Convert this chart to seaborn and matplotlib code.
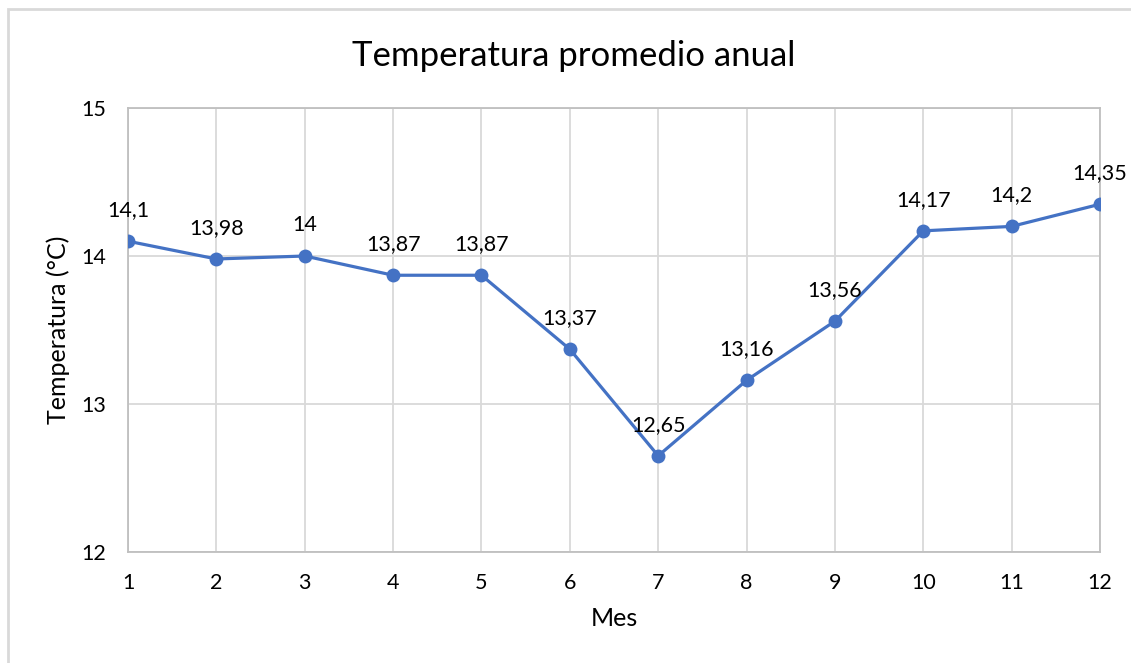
import pandas as pd
import seaborn as sns
import matplotlib.pyplot as plt
from matplotlib.patches import Rectangle

meses = [1, 2, 3, 4, 5, 6, 7, 8, 9, 10, 11, 12]
temperaturas = [14.1, 13.98, 14.0, 13.87, 13.87, 13.37, 12.65, 13.16, 13.56, 14.17, 14.2, 14.35]
etiquetas = ["14,1", "13,98", "14", "13,87", "13,87", "13,37", "12,65", "13,16", "13,56", "14,17", "14,2", "14,35"]

df = pd.DataFrame({"Mes": meses, "Temperatura": temperaturas})

sns.set_style("white")
plt.rcParams['font.family'] = ['Lato', 'DejaVu Sans']
plt.rcParams['text.color'] = 'black'
plt.rcParams['axes.labelcolor'] = 'black'

fig = plt.figure(figsize=(11.31, 6.63), dpi=100)
ax = fig.add_axes([0.1132, 0.1674, 0.8594, 0.6697])

# marco del gráfico
fig.patches.append(Rectangle((8 / 1131, -0.05), 1.2, 1 - 9 / 663 + 0.05, transform=fig.transFigure,
                             fill=False, edgecolor="#d9d9d9", linewidth=2))

sns.lineplot(data=df, x="Mes", y="Temperatura", ax=ax, color="#4472C4", linewidth=2.3,
             marker="o", markersize=10, markeredgewidth=0, zorder=3)

for x, y, t in zip(meses, temperaturas, etiquetas):
    ax.annotate(t, (x, y), xytext=(0, 18), textcoords="offset points",
                ha="center", va="baseline", fontsize=15.5)

ax.set_xlim(1, 12)
ax.set_ylim(12, 15)
ax.set_xticks(meses)
ax.set_yticks([12, 13, 14, 15])
ax.grid(True, color="#d9d9d9", linewidth=1.3)
for s in ax.spines.values():
    s.set_color("#bfbfbf")
    s.set_linewidth(1.3)
ax.tick_params(axis="both", length=0, labelsize=15.5, colors="black")
ax.tick_params(axis="x", pad=15)
ax.tick_params(axis="y", pad=16)

ax.set_xlabel("Mes", fontsize=18, labelpad=10)
ax.set_ylabel("Temperatura (°C)", fontsize=18, labelpad=8)
fig.text(573.5 / 1131, 1 - 66 / 663, "Temperatura promedio anual", fontsize=25,
         ha="center", va="baseline")

fig.savefig("out.png", dpi=100)
